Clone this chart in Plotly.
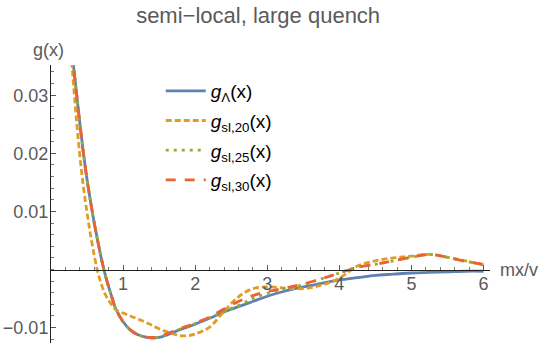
import plotly.graph_objects as go

# sample points along mx/v
x_vals = [0.25, 0.30, 0.35, 0.40, 0.45, 0.50, 0.55, 0.60, 0.65, 0.70, 0.75, 0.80, 0.85, 0.90,
          1.00, 1.10, 1.20, 1.30, 1.40, 1.50, 1.60, 1.70, 1.80, 1.90, 2.00, 2.20, 2.40, 2.60,
          2.80, 3.00, 3.25, 3.50, 3.75, 4.00, 4.25, 4.50, 4.75, 5.00, 5.25, 5.50, 5.75, 6.00]

g_lambda = [0.0440, 0.0365, 0.0308, 0.0252, 0.0200, 0.0155, 0.0116, 0.0080, 0.0048, 0.0018,
            -0.0008, -0.0030, -0.0050, -0.0068, -0.0090, -0.0104, -0.0112, -0.0116, -0.0118,
            -0.0117, -0.0113, -0.0108, -0.0103, -0.0099, -0.0094, -0.0084, -0.0073, -0.0064,
            -0.0055, -0.0046, -0.0037, -0.0030, -0.0024, -0.0018, -0.0014, -0.0010, -0.0008,
            -0.0006, -0.0005, -0.0004, -0.0003, -0.0003]

g_sl20 = [0.0420, 0.0338, 0.0262, 0.0196, 0.0142, 0.0098, 0.0058, 0.0024, -0.0005, -0.0026,
          -0.0042, -0.0053, -0.0062, -0.0069, -0.0075, -0.0080, -0.0085, -0.0090, -0.0096,
          -0.0102, -0.0107, -0.0111, -0.0114, -0.0114, -0.0111, -0.0099, -0.0072, -0.0047,
          -0.0033, -0.0030, -0.0032, -0.0033, -0.0027, -0.0015, 0.0006, 0.0015, 0.0020,
          0.0023, 0.0026, 0.0021, 0.0015, 0.0008]

g_sl25 = [0.0440, 0.0364, 0.0308, 0.0252, 0.0200, 0.0155, 0.0116, 0.0080, 0.0048, 0.0018,
          -0.0008, -0.0030, -0.0050, -0.0068, -0.0090, -0.0104, -0.0112, -0.0116, -0.0117,
          -0.0116, -0.0112, -0.0107, -0.0102, -0.0098, -0.0093, -0.0083, -0.0072, -0.0062,
          -0.0050, -0.0041, -0.0033, -0.0026, -0.0016, -0.0006, 0.0004, 0.0009, 0.0015,
          0.0021, 0.0026, 0.0021, 0.0014, 0.0009]

g_sl30 = [0.0440, 0.0365, 0.0308, 0.0252, 0.0200, 0.0155, 0.0116, 0.0080, 0.0048, 0.0018,
          -0.0008, -0.0030, -0.0050, -0.0068, -0.0090, -0.0104, -0.0112, -0.0116, -0.0117,
          -0.0116, -0.0111, -0.0106, -0.0101, -0.0097, -0.0092, -0.0082, -0.0068, -0.0055,
          -0.0045, -0.0038, -0.0032, -0.0025, -0.0016, -0.0006, 0.0004, 0.0009, 0.0015,
          0.0021, 0.0026, 0.0021, 0.0014, 0.0009]

names = ['<i>g</i><sub>Λ</sub>(x)', '<i>g</i><sub>sl,20</sub>(x)',
         '<i>g</i><sub>sl,25</sub>(x)', '<i>g</i><sub>sl,30</sub>(x)']
colors = ['#5E81B5', '#E19C24', '#8FB032', '#EB6235']
dashes = ['solid', '6px,3px', '3px,5px', '10px,9px']

y_min, y_max = -0.01265, 0.0352
zero_pos = -y_min / (y_max - y_min)
font_name = 'Liberation Sans, Arial, sans-serif'

fig = go.Figure()
for i, ys in enumerate([g_lambda, g_sl20, g_sl25, g_sl30]):
    fig.add_trace(go.Scatter(x=x_vals, y=ys, mode='lines', name=names[i],
                             line=dict(color=colors[i], width=2.8, dash=dashes[i], shape='spline'),
                             legendgroup=str(i)))

fig.update_layout(
    width=540, height=353,
    template='plotly_white',
    plot_bgcolor='white',
    font=dict(family=font_name, size=18, color='#5a5a5a'),
    title=dict(text='semi−local, large quench', x=0.478, xanchor='center',
               y=1 - 15 / 353, yanchor='middle', automargin=False,
               font=dict(size=22, color='#5a5a5a')),
    margin=dict(l=51, r=50, t=65, b=10, autoexpand=False),
    showlegend=True,
    legend=dict(x=0.25, y=0.975, xanchor='left', yanchor='top', bgcolor='rgba(0,0,0,0)',
                font=dict(size=19, color='black'), tracegroupgap=2, itemwidth=40),
)

fig.update_xaxes(range=[0, 6.09], anchor='free', position=zero_pos, automargin=False,
                 showgrid=False, zeroline=False, showline=True, linecolor='#222222', linewidth=1,
                 tickvals=[1, 2, 3, 4, 5, 6], ticks='inside', ticklen=5, tickcolor='#555555',
                 minor=dict(dtick=0.2, ticks='inside', ticklen=3, tickcolor='#777777'),
                 ticklabelstandoff=-2,
                 tickfont=dict(size=18, color='#5a5a5a'))
fig.update_yaxes(range=[y_min, y_max], automargin=False,
                 showgrid=False, zeroline=False, showline=True, linecolor='#222222', linewidth=1,
                 tickvals=[-0.01, 0.01, 0.02, 0.03], ticktext=['−0.01', '0.01', '0.02', '0.03'],
                 ticks='inside', ticklen=5, tickcolor='#555555',
                 minor=dict(dtick=0.002, ticks='inside', ticklen=3, tickcolor='#777777'),
                 ticklabelstandoff=-2,
                 tickfont=dict(size=18, color='#5a5a5a'))

fig.add_annotation(text='g(x)', xref='paper', yref='paper', x=-0.005, y=1.0, yanchor='middle',
                   xanchor='center', showarrow=False, yshift=15, font=dict(size=18, color='#5a5a5a'))
fig.add_annotation(text='mx/v', xref='paper', yref='paper', x=1.0, y=zero_pos, xanchor='left',
                   yanchor='middle', showarrow=False, xshift=8, font=dict(size=18, color='#5a5a5a'))

# drop the default page margin so the figure sits at the window corner
fig.write_html("out.html", config={'displayModeBar': False},
               post_script="document.body.style.margin='0';")
